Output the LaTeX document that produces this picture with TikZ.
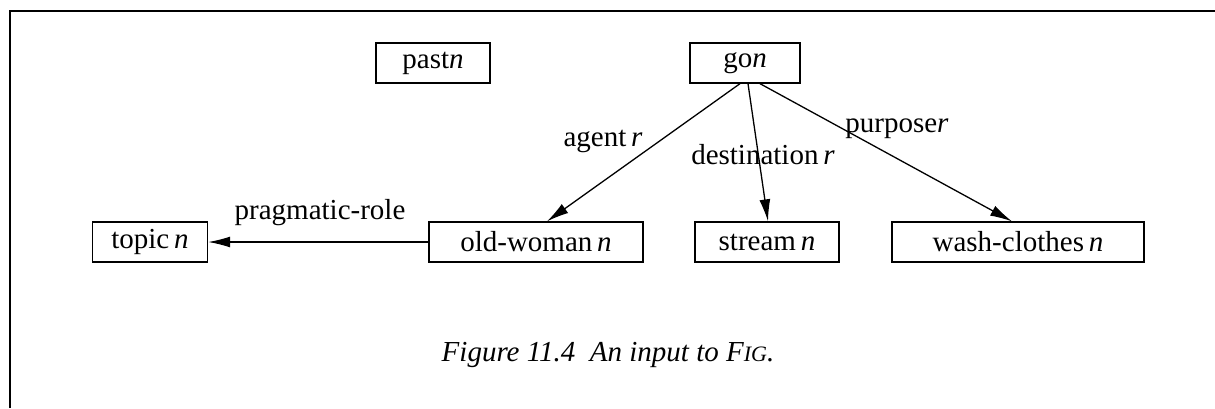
\documentclass[tikz,border=0pt]{standalone}
\usepackage{fontspec}
\setmainfont{Liberation Serif}
\usetikzlibrary{arrows.meta}

\tikzset{
  concept/.style={draw, line width=0.65pt, inner sep=0pt, minimum height=20pt,
    font=\fontsize{14.5}{17}\selectfont},
  rel/.style={line width=0.65pt, -{Latex[length=11pt,width=5.5pt]}},
  rellabel/.style={font=\fontsize{14.5}{17}\selectfont},
}

\begin{document}
\begin{tikzpicture}[x=0.5pt,y=-0.5pt]
	\useasboundingbox (0,0) rectangle (1215,408);
	% Frame
	\draw [line width=1.4pt] (10,408) -- (10,11) -- (1215,11);
	% Concepts
	\node[concept,minimum width=57pt] (past) at (433,63) {past\textit{n}};
	\node[concept,minimum width=55pt] (go) at (745,63) {go\textit{n}};
	\node[concept,minimum width=57.5pt] (topic) at (150,242) {topic\,\textit{n}};
	\node[concept,minimum width=107pt] (oldwoman) at (536,242) {old-woman\,\textit{n}};
	\node[concept,minimum width=72pt] (stream) at (767,242) {stream\,\textit{n}};
	\node[concept,minimum width=126pt] (washclothes) at (1018,242) {wash-clothes\,\textit{n}};
	% Relations
	\draw [rel] ([xshift=-2.5pt]go.south) -- ([xshift=5.5pt]oldwoman.north);
	\draw [rel] ([xshift=1.5pt]go.south) -- ([xshift=0.5pt]stream.north);
	\draw [rel] ([xshift=7.5pt]go.south) -- ([xshift=-3pt]washclothes.north);
	\draw [rel] (oldwoman.west) -- (topic.east);
	% Labels
	\node[rellabel] (agent) at (603,141) {agent\,\textit{r}};
	\node[rellabel] (destination) at (763,155) {destination\,\textit{r}};
	\node[rellabel] (purpose) at (897,129) {purpose\textit{r}};
	\node[rellabel] (pragmatic) at (320,213) {pragmatic-role};
	% Caption
	\node[rellabel,font=\fontsize{14.5}{17}\selectfont\itshape] (caption) at (608,355)
	  {Figure 11.4\ \ An input to F{\fontsize{11}{13}\selectfont IG}.};
\end{tikzpicture}
\end{document}
